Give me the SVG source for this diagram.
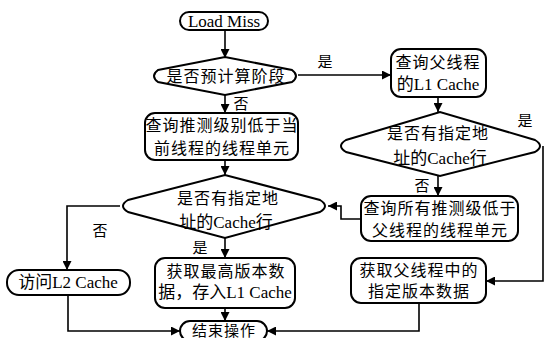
<svg xmlns="http://www.w3.org/2000/svg" width="546" height="338" viewBox="0 0 546 338">
<defs>
<style>
.s{fill:#fff;stroke:#000;stroke-width:2}
.c{fill:none;stroke:#000;stroke-width:1.6}
.t{font-family:"Liberation Serif","Noto Sans CJK SC",serif;font-size:16px;fill:#000;text-anchor:middle;letter-spacing:1px}
.e{letter-spacing:0;font-size:17px}
.l{font-family:"Liberation Serif","Noto Sans CJK SC",serif;font-size:15px;fill:#000;text-anchor:middle}
</style>
<marker id="a" viewBox="0 0 10 10" refX="10" refY="5" markerWidth="9" markerHeight="9" markerUnits="userSpaceOnUse" orient="auto">
<path d="M0,0 L10,5 L0,10 Z" fill="#000"/>
</marker>
</defs>
<rect width="546" height="338" fill="#fff"/>
<g id="connectors">
<path class="c" d="M225,30 V58" marker-end="url(#a)"/>
<path class="c" d="M298,75 H391" marker-end="url(#a)"/>
<path class="c" d="M225,95 V113" marker-end="url(#a)"/>
<path class="c" d="M438,97 V112" marker-end="url(#a)"/>
<path class="c" d="M225,160 V175" marker-end="url(#a)"/>
<path class="c" d="M438,176 V196" marker-end="url(#a)"/>
<path class="c" d="M361,219 H341 V206 H328" marker-end="url(#a)"/>
<path class="c" d="M543,146 V281 H486" marker-end="url(#a)"/>
<path class="c" d="M120,206 H67 V270" marker-end="url(#a)"/>
<path class="c" d="M225,238 V258" marker-end="url(#a)"/>
<path class="c" d="M225,308 V321" marker-end="url(#a)"/>
<path class="c" d="M68,295 V331 H180" marker-end="url(#a)"/>
<path class="c" d="M419,303 V331 H267" marker-end="url(#a)"/>
<text class="l" x="325" y="67">是</text>
<text class="l" x="241" y="109">否</text>
<text class="l" x="422" y="191">否</text>
<text class="l" x="525" y="126">是</text>
<text class="l" x="100" y="236">否</text>
<text class="l" x="200" y="253">是</text>
</g>
<g id="load-miss">
<rect class="s" x="180" y="12" width="88" height="18" rx="9"/>
<text class="t e" x="224" y="27">Load Miss</text>
</g>
<g id="d-precompute">
<path class="s" d="M158,70 L225,57 L292,70 Q300,76 292,82 L225,95 L158,82 Q150,76 158,70 Z"/>
<text class="t" x="226" y="82">是否预计算阶段</text>
</g>
<g id="query-parent-l1">
<rect class="s" x="391" y="49" width="95" height="48" rx="10"/>
<text class="t" x="438" y="68">查询父线程</text>
<text class="t e" x="438" y="90">的L1 Cache</text>
</g>
<g id="query-lower">
<rect class="s" x="145" y="113" width="153" height="47" rx="10"/>
<text class="t" x="222" y="131">查询推测级别低于当</text>
<text class="t" x="222" y="154">前线程的线程单元</text>
</g>
<g id="d-parent-has-line">
<path class="s" d="M346,140 L440,112 L535,140 Q545,146 535,152 L440,176 L346,152 Q336,146 346,140 Z"/>
<text class="t" x="438" y="139">是否有指定地</text>
<text class="t e" x="440" y="164">址的Cache行</text>
</g>
<g id="d-has-line">
<path class="s" d="M128,200 L225,175 L320,200 Q330,206 320,212 L225,238 L128,212 Q118,206 128,200 Z"/>
<text class="t" x="228" y="204">是否有指定地</text>
<text class="t e" x="226" y="228">址的Cache行</text>
</g>
<g id="query-all-lower">
<rect class="s" x="361" y="196" width="157" height="45" rx="10"/>
<text class="t" x="440" y="214">查询所有推测级低于</text>
<text class="t" x="440" y="236">父线程的线程单元</text>
</g>
<g id="access-l2">
<rect class="s" x="7" y="270" width="123" height="25" rx="12"/>
<text class="t e" x="68" y="288">访问L2 Cache</text>
</g>
<g id="get-highest">
<rect class="s" x="155" y="258" width="140" height="50" rx="10"/>
<text class="t" x="226" y="277">获取最高版本数</text>
<text class="t e" x="225" y="298">据，存入L1 Cache</text>
</g>
<g id="get-parent-version">
<rect class="s" x="351" y="258" width="135" height="45" rx="10"/>
<text class="t" x="419" y="276">获取父线程中的</text>
<text class="t" x="419" y="297">指定版本数据</text>
</g>
<g id="end">
<rect class="s" x="180" y="321" width="87" height="20" rx="10"/>
<text class="t" x="224" y="336" style="font-size:15px">结束操作</text>
</g>
</svg>
